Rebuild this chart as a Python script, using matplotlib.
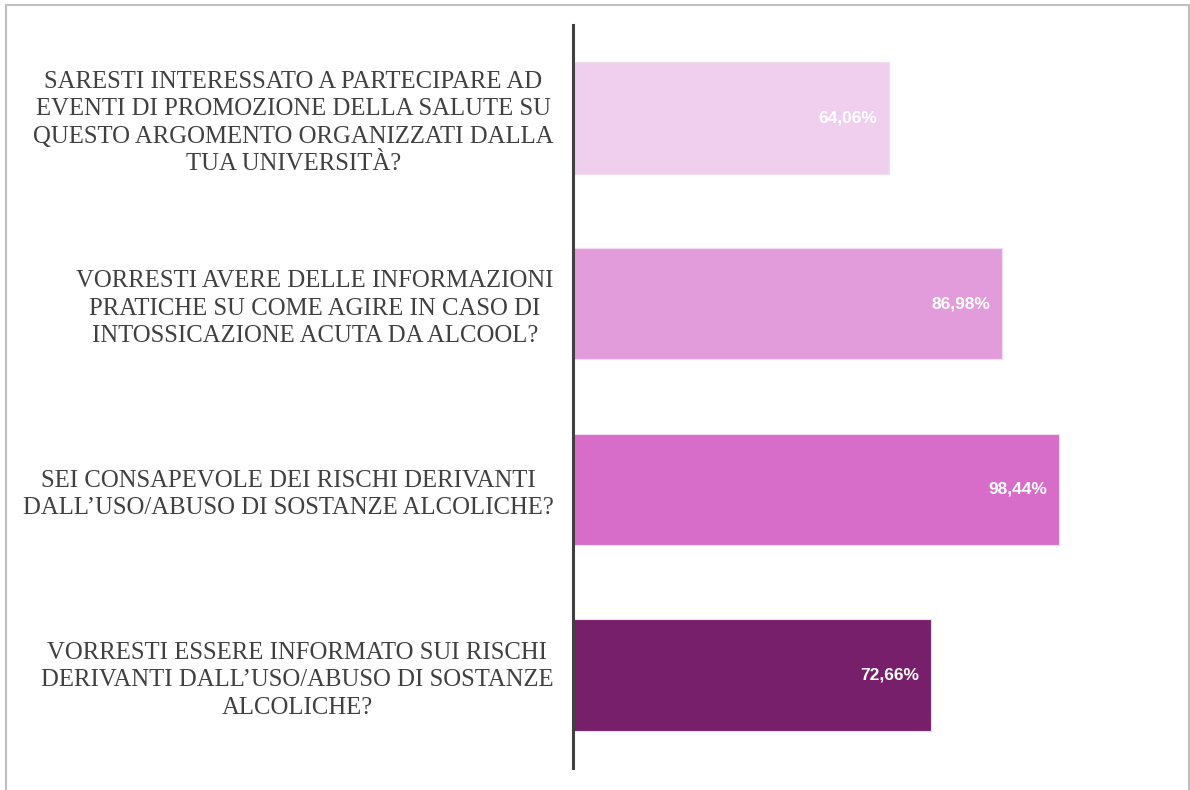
import matplotlib
matplotlib.use('Agg')
import matplotlib.pyplot as plt
from matplotlib.patches import Rectangle

# data, top to bottom
questions = [
    "SARESTI INTERESSATO A PARTECIPARE AD\nEVENTI DI PROMOZIONE DELLA SALUTE SU\nQUESTO ARGOMENTO ORGANIZZATI DALLA\nTUA UNIVERSITÀ?",
    "VORRESTI AVERE DELLE INFORMAZIONI\nPRATICHE SU COME AGIRE IN CASO DI\nINTOSSICAZIONE ACUTA DA ALCOOL?",
    "SEI CONSAPEVOLE DEI RISCHI DERIVANTI\nDALL\u2019USO/ABUSO DI SOSTANZE ALCOLICHE?",
    "VORRESTI ESSERE INFORMATO SUI RISCHI\nDERIVANTI DALL\u2019USO/ABUSO DI SOSTANZE\nALCOLICHE?",
]
values = [64.06, 86.98, 98.44, 72.66]
bar_colors = ['#F0CEEE', '#E29CDC', '#D76DC9', '#781F6B']

fig = plt.figure(figsize=(11.9, 7.9), dpi=100)
ax = fig.add_axes([573 / 1190, 1 - 768 / 790, (1170 - 573) / 1190, (768 - 25) / 790])

y = list(range(len(values)))
ax.barh(y, values, height=0.6, color=bar_colors, edgecolor='#F3DDF0', linewidth=0.8)

for yi, v in zip(y, values):
    ax.text(v - 2.4, yi, f"{v:.2f}%".replace('.', ','), ha='right', va='center',
            color='white', fontsize=12.5, fontweight='bold', family='Liberation Sans')

ax.set_xlim(0, (1170 - 573) / 4.933)
ax.set_ylim(3.5, -0.5)
ax.set_yticks(y, questions, fontsize=17.8, family='Liberation Serif', color='#404040')
for lbl in ax.get_yticklabels():
    lbl.set_multialignment('center')
    lbl.set_linespacing(1.31)
ax.tick_params(axis='y', length=0, pad=14)
ax.set_xticks([])

for s in ['top', 'right', 'bottom']:
    ax.spines[s].set_visible(False)
ax.spines['left'].set_color('#404040')
ax.spines['left'].set_linewidth(2.2)

# light gray frame around the picture
fig.patches.append(Rectangle((6 / 1190, -0.01), 1183 / 1190, 1 - 5 / 790 + 0.01,
                             transform=fig.transFigure, fill=False,
                             edgecolor='#BFBFBF', linewidth=1.5))

fig.savefig('out.png', dpi=100)
